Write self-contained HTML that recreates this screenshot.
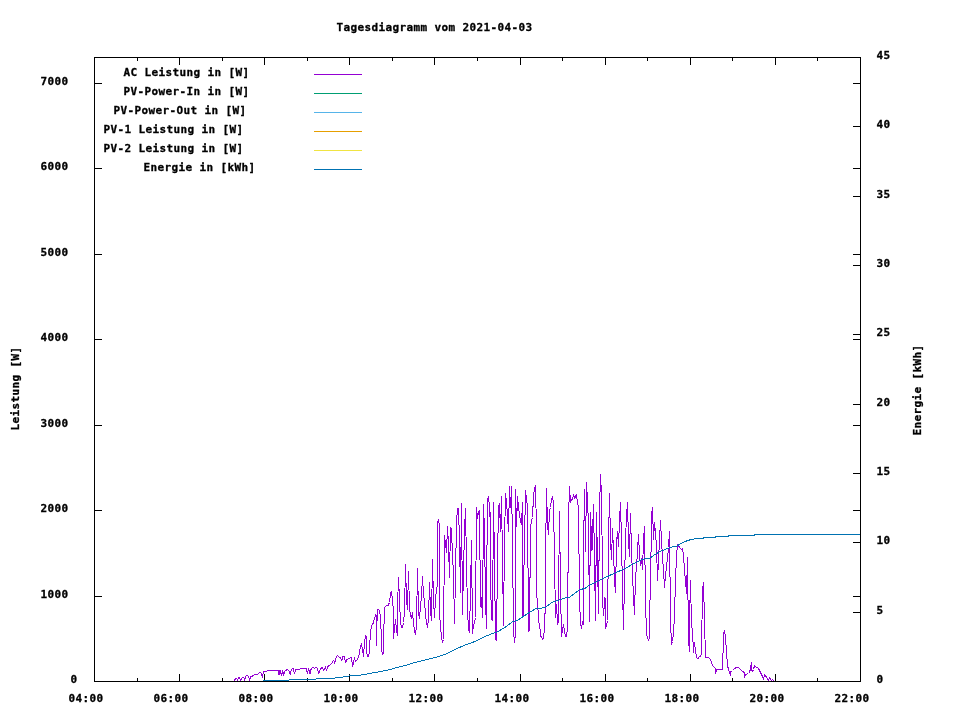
<!DOCTYPE html>
<html lang="de"><head><meta charset="utf-8"><title>Tagesdiagramm vom 2021-04-03</title>
<style>
html,body{margin:0;padding:0;background:#fff;}
body{width:960px;height:720px;overflow:hidden;}
svg{display:block;will-change:transform;}
text{font-family:"DejaVu Sans Mono","Liberation Mono",monospace;font-weight:bold;font-size:11px;fill:#000;stroke:#000;stroke-width:0.3px;white-space:pre;letter-spacing:0.378px;}
.ax{stroke:#000;stroke-width:1;fill:none;shape-rendering:crispEdges;}
.ln{fill:none;stroke-width:1;stroke-linejoin:round;shape-rendering:crispEdges;}
</style></head><body>
<svg width="960" height="720" viewBox="0 0 960 720">
<rect width="960" height="720" fill="#fff"/>

<rect class="ax" x="94.5" y="57.5" width="766.0" height="624.0"/>
<path class="ax" d="M137.5 682.0v-4M137.5 57.0v4M179.5 682.0v-8M179.5 57.0v8M222.5 682.0v-4M222.5 57.0v4M264.5 682.0v-8M264.5 57.0v8M307.5 682.0v-4M307.5 57.0v4M349.5 682.0v-8M349.5 57.0v8M392.5 682.0v-4M392.5 57.0v4M434.5 682.0v-8M434.5 57.0v8M477.5 682.0v-4M477.5 57.0v4M520.5 682.0v-8M520.5 57.0v8M562.5 682.0v-4M562.5 57.0v4M605.5 682.0v-8M605.5 57.0v8M647.5 682.0v-4M647.5 57.0v4M690.5 682.0v-8M690.5 57.0v8M732.5 682.0v-4M732.5 57.0v4M775.5 682.0v-8M775.5 57.0v8M817.5 682.0v-4M817.5 57.0v4M94.0 596.5h8M861.0 596.5h-8M94.0 510.5h8M861.0 510.5h-8M94.0 425.5h8M861.0 425.5h-8M94.0 339.5h8M861.0 339.5h-8M94.0 254.5h8M861.0 254.5h-8M94.0 168.5h8M861.0 168.5h-8M94.0 83.5h8M861.0 83.5h-8M861.0 612.5h-8M861.0 542.5h-8M861.0 473.5h-8M861.0 404.5h-8M861.0 334.5h-8M861.0 265.5h-8M861.0 196.5h-8M861.0 126.5h-8"/>
<text x="68.4" y="702" >04:00</text>
<text x="153.4" y="702" >06:00</text>
<text x="238.4" y="702" >08:00</text>
<text x="323.4" y="702" >10:00</text>
<text x="408.4" y="702" >12:00</text>
<text x="494.4" y="702" >14:00</text>
<text x="579.4" y="702" >16:00</text>
<text x="664.4" y="702" >18:00</text>
<text x="749.4" y="702" >20:00</text>
<text x="834.4" y="702" >22:00</text>
<text x="70.4" y="683" >0</text>
<text x="40.4" y="598" >1000</text>
<text x="40.4" y="512" >2000</text>
<text x="40.4" y="427" >3000</text>
<text x="40.4" y="341" >4000</text>
<text x="40.4" y="256" >5000</text>
<text x="40.4" y="170" >6000</text>
<text x="40.4" y="85" >7000</text>
<text x="876.4" y="683" >0</text>
<text x="876.4" y="614" >5</text>
<text x="876.4" y="544" >10</text>
<text x="876.4" y="475" >15</text>
<text x="876.4" y="406" >20</text>
<text x="876.4" y="336" >25</text>
<text x="876.4" y="267" >30</text>
<text x="876.4" y="198" >35</text>
<text x="876.4" y="128" >40</text>
<text x="876.4" y="59" >45</text>
<text x="336.4" y="31" >Tagesdiagramm vom 2021-04-03</text>
<text x="-0.6" y="0" transform="translate(19,430) rotate(-90)">Leistung [W]</text>
<text x="-0.6" y="0" transform="translate(921,435) rotate(-90)">Energie [kWh]</text>
<text x="123.4" y="76" >AC Leistung in [W]</text>
<path class="ln" style="shape-rendering:crispEdges" stroke="#9400d3" d="M314 74.5H362"/>
<text x="123.4" y="95" >PV-Power-In in [W]</text>
<path class="ln" style="shape-rendering:crispEdges" stroke="#009e73" d="M314 93.5H362"/>
<text x="113.4" y="114" >PV-Power-Out in [W]</text>
<path class="ln" style="shape-rendering:crispEdges" stroke="#56b4e9" d="M314 112.5H362"/>
<text x="103.4" y="133" >PV-1 Leistung in [W]</text>
<path class="ln" style="shape-rendering:crispEdges" stroke="#e69f00" d="M314 131.5H362"/>
<text x="103.4" y="152" >PV-2 Leistung in [W]</text>
<path class="ln" style="shape-rendering:crispEdges" stroke="#f0e442" d="M314 150.5H362"/>
<text x="143.4" y="171" >Energie in [kWh]</text>
<path class="ln" style="shape-rendering:crispEdges" stroke="#0072b2" d="M314 169.5H362"/>
<path class="ln" stroke="#9400d3" d="M234 681 L235.62 678.75 L236.88 678.12 L237.5 680.62 L238.5 677.5 L239.75 678.12 L240.62 681 L241.88 677.88 L243.75 677.25 L244.75 680.62 L245.62 676.5 L247.25 675.25 L248.75 676.88 L249.62 680.62 L250.62 676.5 L251.88 676.88 L252.75 675.62 L254.38 675 L255.62 674 L256.88 674.75 L258.75 673.12 L260 672.25 L261.25 673.12 L262.5 677.5 L263.5 671.5 L266.25 671.25 L268.12 670.25 L270 671 L271.88 670.25 L273.75 671 L275 670 L278.12 670.25 L279 675.25 L280 670.25 L281.5 675.62 L282.75 670.62 L283.75 675.25 L285 670.62 L287.25 669.75 L288.75 670.25 L290.25 675 L291.25 669.75 L293.12 668.12 L294.38 673.5 L295.62 670 L298.12 669.38 L300.62 668.75 L302.5 669 L304.38 668.12 L306.25 668.5 L307.5 673.5 L308.5 668.75 L310 673.5 L311.25 668.5 L313.12 667.25 L314.38 668.12 L316.88 667.5 L318.75 673.5 L320 670 L321.88 667.25 L323.75 670.62 L325.38 666.88 L326.5 670.25 L328.12 666.25 L330 665 L331.88 663.5 L333.75 660 L334.75 663.12 L336.25 656.88 L337.5 655.38 L339 656.88 L340.62 658.12 L341.5 661 L343.12 656.25 L344.38 656.88 L345.62 662.25 L346.88 659.75 L348.75 658.75 L351.25 657.25 L351.88 661.25 L352.88 666.25 L354.38 657.75 L355.25 661.25 L356.88 660 L358.75 656.88 L359.75 650 L361.5 643.75 L362.5 649.38 L363.5 656.25 L364.62 641.25 L365.62 635.62 L366.5 636.88 L366.88 653.75 L368.12 656.88 L369.38 652.5 L370.38 632.5 L371.5 625.62 L372.75 624.38 L374.38 618.75 L375.62 614.75 L376.25 615 L376.5 645 L377.25 610 L378.5 609.38 L379.75 611.88 L380.62 618.12 L381.25 635 L381.88 651.25 L382.5 655 L383.38 653.75 L383.75 630 L384.75 607.5 L386.25 605.62 L388.12 605.25 L389.5 602.5 L390.5 593.5 L391.5 591.5 L392.5 599.5 L393.5 612.5 L393.5 638.5 L394.5 628.5 L395.5 619.5 L396.5 630.5 L397.5 635.5 L397.5 606.5 L398.5 577.5 L399.5 600.5 L400.5 622.5 L401.5 627.5 L402.5 627.5 L403.5 622.5 L404.5 612.5 L405.5 564.5 L406.5 600.5 L407.5 609.5 L408.5 571.5 L409.5 608.5 L410.5 615.5 L411.5 618.5 L412.5 612.5 L413.5 622.5 L414.5 630.5 L415.5 634.5 L416.5 625.5 L417.5 568.5 L418.5 612.5 L419.5 618.5 L420.5 606.5 L421.5 596.5 L422.5 576.5 L423.5 594.5 L424.5 600.5 L425.5 615.5 L426.5 622.5 L427.5 627.5 L428.5 618.5 L429.5 582.5 L430.5 610.5 L431.5 620.5 L432.5 559.5 L433.5 600.5 L434.5 617.5 L435.5 598.5 L436.5 590.5 L437.5 584.5 L437.5 522.5 L438.5 519.5 L439.5 525.5 L439.5 612.5 L440.5 626.5 L441.5 636.5 L442.5 642.5 L443.5 639.5 L444.5 535.5 L445.5 543.5 L446.5 552.5 L447.5 526.5 L448.5 545.5 L449.5 577.5 L450.5 527.5 L451.5 529.5 L452.5 555.5 L453.5 573.5 L454.5 623.5 L455.5 575.5 L456.5 522.5 L457.5 508.5 L458.5 508.5 L459.5 540.5 L460.5 592.5 L461.5 503.5 L462.5 614.5 L463.5 570.5 L464.5 530.5 L465.5 508.5 L466.5 563.5 L467.5 610.5 L468.5 628.5 L469.5 632.5 L470.5 590.5 L471.5 540.5 L472.5 633.5 L473.5 625.5 L474.5 622.5 L475.5 617.5 L476.5 507.5 L477.5 518.5 L478.5 512.5 L479.5 510.5 L480.5 606.5 L481.5 597.5 L482.5 617.5 L483.5 504.5 L484.5 530.5 L485.5 600.5 L486.5 628.5 L487 545.5 L487.5 500.5 L488.5 496.5 L489.5 506.5 L490 516.5 L490.5 512.5 L490.5 580.5 L491.5 618.5 L492.5 620.5 L493.5 502.5 L494.5 560.5 L495.5 638.5 L496.5 640.5 L497.5 560.5 L498.5 507.5 L499.5 503.5 L500.5 531.5 L501.5 496.5 L502.5 560.5 L503.5 625.5 L504.5 540.5 L505.5 493.5 L506.5 502.5 L507.5 515.5 L508.5 531.5 L509.5 486.5 L510.5 507.5 L511.5 486.5 L512.5 540.5 L513.5 633.5 L514.5 640.5 L515 642.5 L515.5 489.5 L516.5 526.5 L517.5 496.5 L518.5 507.5 L519.5 514.5 L520.5 521.5 L521.5 524.5 L522.5 502.5 L523 617.5 L524.5 540.5 L525.5 490.5 L526.5 498.5 L527.5 506.5 L528.5 626.5 L529 631.5 L529.5 627.5 L530.5 528.5 L531.5 520.5 L532.5 517.5 L533.5 496.5 L534.5 488.5 L535.5 485.5 L536 507.5 L536.5 595.5 L537.5 600.5 L538.5 619.5 L540 628.5 L541 636.5 L543 639.5 L544 633.5 L545 614.5 L545.5 560.5 L546.5 488.5 L547.5 524.5 L548.5 534.5 L549.5 510.5 L550.5 507.5 L551.5 499.5 L552.5 496.5 L553.5 502.5 L554.5 560.5 L555.5 617.5 L556.5 604.5 L557.5 622.5 L558 624.5 L558.5 600.5 L559.5 511.5 L560.5 590.5 L561.5 636.5 L562.5 630.5 L563.5 624.5 L564.5 630.5 L565.5 636.5 L566.5 636.5 L567.5 628.5 L568.5 518.5 L569.5 486.5 L570.5 502.5 L571.5 499.5 L572.5 499.5 L573.5 494.5 L574.5 498.5 L575.5 496.5 L576.5 494.5 L577.5 503.5 L578.5 506.5 L579.5 600.5 L580.5 622.5 L581.5 628.5 L582.5 621.5 L583.5 624.5 L584 520.5 L584.5 489.5 L585.5 551.5 L586.5 482.5 L587.5 500.5 L588.5 525.5 L589.5 621.5 L590.5 512.5 L592 550.5 L593.5 504.5 L594.5 560.5 L595.5 620.5 L596.5 512.5 L597.5 560.5 L598.5 613.5 L599.5 510.5 L600.5 474.5 L601.5 495.5 L602 534.5 L602.5 600.5 L603.5 615.5 L605 597.5 L605.5 628.5 L606.5 625.5 L607.5 620.5 L608.5 540.5 L609.5 493.5 L610.5 540.5 L611.5 559.5 L612.5 528.5 L613.5 550.5 L614.5 580.5 L615.5 592.5 L616.5 543.5 L617.5 531.5 L618.5 546.5 L619.5 520.5 L620.5 502.5 L621.5 540.5 L622.5 590.5 L623.5 629.5 L624.5 580.5 L625.5 540.5 L626.5 515.5 L627.5 502.5 L628.5 540.5 L629.5 556.5 L630.5 513.5 L631.5 550.5 L632.5 575.5 L633.5 596.5 L634.5 614.5 L635.5 576.5 L636.5 568.5 L637.5 550.5 L638.5 534.5 L639.5 555.5 L640.5 565.5 L641.5 558.5 L642.5 569.5 L643.5 540.5 L644.5 526.5 L645.5 600.5 L646.5 634.5 L647.5 637.5 L648.5 640.5 L649 640.5 L649.5 610.5 L650.5 590.5 L651.5 515.5 L652.5 507.5 L653.5 539.5 L654.5 522.5 L655.5 533.5 L656.5 545.5 L657.5 580.5 L658.5 560.5 L659.5 540.5 L660.5 520.5 L661.5 540.5 L662.5 556.5 L663.5 570.5 L664.5 587.5 L665.5 575.5 L666.5 566.5 L667.5 558.5 L668.5 547.5 L669.5 531.5 L670.5 620.5 L671.5 644.5 L672.5 641.5 L673.5 633.5 L674.5 615.5 L675.5 580.5 L676.5 556.5 L677.5 544.5 L678.5 545.5 L679.5 547.5 L680.5 548.5 L681.5 549.5 L682.5 548.5 L683.5 555.5 L684.5 570.5 L685.5 580.5 L686.5 593.5 L687.5 557.5 L688.5 640.5 L689.5 651.5 L690 600.5 L690.5 580.5 L691.5 625.5 L692.5 630.5 L693.5 652.5 L694.5 642.5 L695.5 650.5 L696.5 657.5 L698 658.5 L699.5 656.5 L701.5 655.5 L702 620.5 L702.5 590.5 L703.5 582.5 L704.5 620.5 L705.5 657.5 L708.5 657.5 L710.5 659.5 L711.5 662.5 L712.5 665.5 L714.5 667.5 L715.5 668.5 L715.5 673.5 L716.5 669.5 L722.5 669.5 L723 653.5 L723.5 634.5 L724.5 630.5 L725.5 637.5 L726.5 652.5 L727.5 665.5 L728.5 669.5 L729.5 672.5 L730.5 675.5 L731 671.5 L732.5 670.5 L734.5 668.5 L736.5 667.5 L738.5 667.5 L740.5 669.5 L742.5 671.5 L744.5 672.5 L744.5 677.5 L745.5 674.5 L748.5 673.5 L749.5 672.5 L750.5 668.5 L751.5 662.5 L752 670.5 L752.5 671.5 L753.5 669.5 L754.5 665.5 L755.5 666.5 L756.5 667.5 L757.5 667.5 L758.5 668.5 L759.5 670.5 L760.5 672.5 L761.5 674.5 L762.5 676.5 L763.5 679.5 L764.5 674.5 L765.5 675.5 L766.5 677.5 L767.5 678.5 L768.5 680.5 L769.5 677.5 L770.5 679.5 L771.5 680.5 L772.5 679.5 L773.5 680.5 L774.5 681.5"/>
<path class="ln" stroke="#0072b2" d="M262.5 680.5 L288.5 680.5 L289.5 679.5 L315.5 679.5 L316.5 678.5 L334.5 678.5 L335.5 677.5 L340 677.5 L349 676 L357 675.5 L365 674.5 L372 673 L381 671.5 L390 669.5 L395 668 L405 665.5 L415 662.5 L425 660 L435 657.5 L445 654.5 L447 653.5 L455 649.5 L465 645 L475 641.5 L485 636.5 L490 634.5 L498 631.5 L505 627.5 L512 622 L518 620 L527 614 L535 609 L545 607.5 L552 602.5 L560 599.5 L565 598 L569 597.5 L580 589.5 L585 588.5 L589 585.5 L595 582.5 L603 578.5 L615 573 L625 568.5 L633 564 L641 560 L645 558.5 L650 558 L655 554.5 L660 551.5 L665 549.5 L670 547.5 L677 546 L681 543.5 L685 541.5 L691 539.5 L697 538.5 L703 538.5 L704 537.5 L715 537.5 L716 536.5 L728 536.5 L729 535.5 L754 535.5 L755 534.5 L860 534.5"/>
</svg>
</body></html>
